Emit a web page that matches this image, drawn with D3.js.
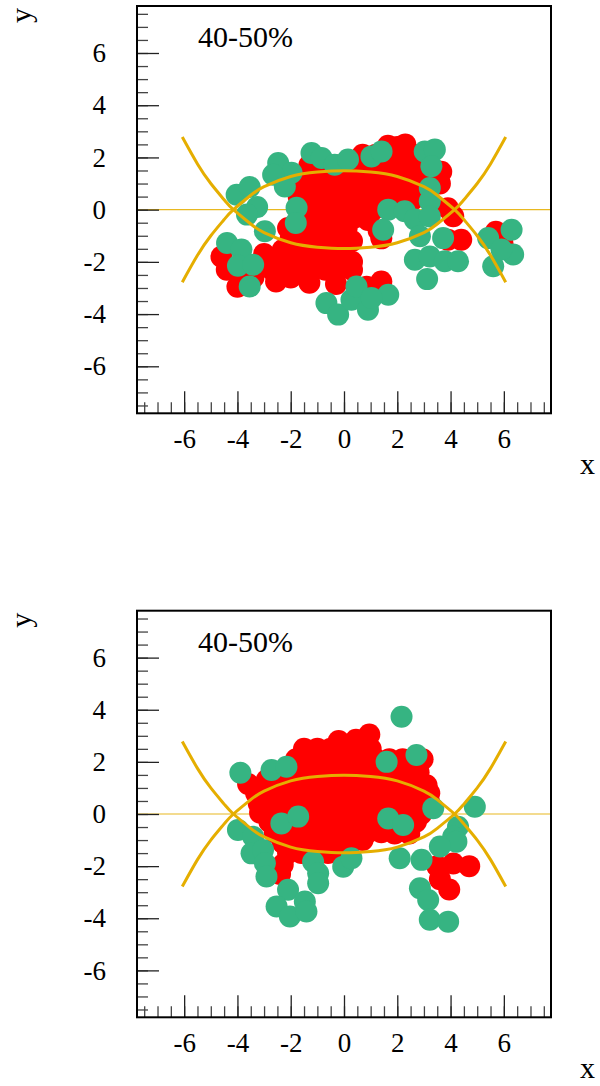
<html>
<script src="https://d3js.org/d3.v7.min.js"></script>
<style> body {margin:0;} svg text {font-family: "Liberation Serif", "Times New Roman", serif;} </style>
<body onload='init()'>
<svg width=600 height=1086>
</svg>
<script>
// axis ticks
var majorTicks = [-6, -4, -2, 0, 2, 4, 6];
var minorTicks = [-7.5, -7, -6.5, -6, -5.5, -5, -4.5, -4, -3.5, -3, -2.5, -2, -1.5, -1, -0.5, 0,
                  0.5, 1, 1.5, 2, 2.5, 3, 3.5, 4, 4.5, 5, 5.5, 6, 6.5, 7, 7.5];

// the two yellow arcs
var curveX     = [-6.07, -5.5, -5, -4.5, -4.15, -3.5, -3, -2, -1, 0, 1, 2, 3, 3.5, 4.15, 4.5, 5, 5.5, 6.07];
var curveUpper = [-2.78, -1.75, -1.0, -0.38, 0, 0.55, 0.88, 1.27, 1.44, 1.49, 1.44, 1.27, 0.88, 0.55, 0, -0.38, -1.0, -1.75, -2.78];
var curveLower = [2.78, 1.75, 1.0, 0.38, 0, -0.55, -0.88, -1.27, -1.44, -1.49, -1.44, -1.27, -0.88, -0.55, 0, 0.38, 1.0, 1.75, 2.78];

// top panel points [x, y]
var topRed = [[1.65,2.45],[2.0,2.4],[2.3,2.5],
  [0.7,2.1],[1.2,2.1],[1.7,2.1],[2.2,2.1],[2.6,2.1],
  [-1.3,1.7],[-0.8,1.7],[-0.3,1.7],[0.2,1.7],[0.7,1.7],[1.2,1.7],[1.7,1.7],[2.2,1.7],[2.7,1.7],
  [-1.5,1.3],[-1.0,1.3],[-0.5,1.3],[0.0,1.3],[0.5,1.3],[1.0,1.3],[1.5,1.3],[2.0,1.3],[2.5,1.3],[3.0,1.3],[3.65,1.45],
  [-1.5,0.9],[-1.0,0.9],[-0.5,0.9],[0.0,0.9],[0.5,0.9],[1.0,0.9],[1.5,0.9],[2.0,0.9],[2.5,0.9],[3.0,0.9],[3.6,1.0],
  [-1.7,0.5],[-1.2,0.5],[-0.7,0.5],[-0.2,0.5],[0.3,0.5],[0.8,0.5],[1.3,0.5],[2.0,0.5],[2.6,0.4],[3.0,0.5],
  [-1.4,0.1],[-0.9,0.1],[-0.4,0.1],[0.1,0.1],[0.6,0.1],[1.1,0.0],[3.9,0.05],
  [-1.6,-0.3],[-1.1,-0.3],[-0.6,-0.3],[-0.1,-0.3],[0.4,-0.3],[0.9,-0.4],[4.1,-0.25],
  [-2.1,-0.7],[-1.4,-0.7],[-0.9,-0.7],[-0.4,-0.7],[0.1,-0.7],[1.3,-0.8],
  [-2.0,-1.1],[-1.6,-1.1],[-1.1,-1.1],[-0.6,-1.1],[-0.1,-1.1],[0.3,-1.2],[1.4,-1.1],[3.9,-1.15],[4.4,-1.15],
  [-2.3,-1.55],[-1.9,-1.5],[-1.4,-1.5],[-0.9,-1.5],[-0.4,-1.5],[0.0,-1.6],
  [-3.0,-1.7],[-2.5,-1.9],[-2.0,-1.9],[-1.5,-1.9],[-1.0,-1.9],[-0.5,-1.9],[0.0,-1.9],[0.3,-2.0],
  [-2.7,-2.3],[-2.2,-2.3],[-1.7,-2.3],[-1.2,-2.3],[-0.7,-2.3],[-0.2,-2.3],[0.3,-2.3],
  [-2.55,-2.75],[-2.0,-2.6],[-1.3,-2.8],[-0.3,-2.85],[1.4,-2.75],[0.85,-2.95],
  [-4.6,-1.8],[-4.4,-2.3],[-4.0,-2.95],[-3.75,-2.5],[-3.4,-2.6],
  [5.7,-0.85],[5.95,-1.3]];
var topGreen = [[-4.03,0.57],[-3.54,0.87],[-3.26,0.10],[-3.64,-0.19],[-2.97,-0.83],
  [-4.39,-1.28],[-3.85,-1.53],[-3.98,-2.15],[-3.41,-2.11],[-3.54,-2.94],
  [-2.47,1.79],[-1.97,1.41],[-2.66,1.34],[-2.22,0.89],[-1.78,0.07],[-1.81,-0.51],
  [-1.22,2.17],[-0.84,1.98],[-0.35,1.72],[0.15,1.92],
  [-0.66,-3.58],[-0.22,-4.02],[0.28,-3.45],[0.47,-2.94],
  [1.03,2.04],[1.41,2.23],[3.03,2.23],[3.41,2.30],[3.28,1.66],[3.22,0.83],[3.22,0.32],
  [1.66,0.0],[2.28,-0.06],[1.47,-0.77],[2.66,-0.38],[2.85,-1.02],[3.22,-0.26],[3.72,-1.09],
  [2.66,-1.92],[3.22,-1.79],[3.78,-1.98],[4.28,-1.98],[3.12,-2.66],
  [5.41,-1.09],[6.29,-0.77],[6.35,-1.72],[5.6,-2.17],[5.91,-1.53],
  [0.9,-3.83],[1.66,-3.26],[1.03,-3.38]];

// bottom panel points [x, y]
var bottomRed = [[-0.2,2.8],[0.45,2.85],[0.95,3.05],
  [-1.5,2.5],[-1.0,2.5],[-0.5,2.5],[0.0,2.5],[0.5,2.5],[1.0,2.5],
  [-1.8,2.1],[-1.3,2.1],[-0.8,2.1],[-0.3,2.1],[0.2,2.1],[0.7,2.1],[1.2,2.1],[1.7,2.1],[2.2,2.1],[2.95,2.1],
  [-2.2,1.7],[-1.7,1.7],[-1.2,1.7],[-0.7,1.7],[-0.2,1.7],[0.3,1.7],[0.8,1.7],[1.3,1.7],[1.8,1.7],[2.3,1.7],[2.8,1.6],
  [-3.6,1.15],[-2.9,1.3],[-2.4,1.3],[-1.9,1.3],[-1.4,1.3],[-0.9,1.3],[-0.4,1.3],[0.1,1.3],[0.6,1.3],[1.1,1.3],[1.6,1.3],[2.1,1.3],[2.6,1.3],[3.1,1.1],
  [-3.3,0.8],[-2.8,0.9],[-2.3,0.9],[-1.8,0.9],[-1.3,0.9],[-0.8,0.9],[-0.3,0.9],[0.2,0.9],[0.7,0.9],[1.2,0.9],[1.7,0.9],[2.2,0.9],[2.7,0.9],[3.2,0.8],
  [-3.2,0.4],[-2.7,0.5],[-2.2,0.5],[-1.7,0.5],[-1.2,0.5],[-0.7,0.5],[-0.2,0.5],[0.3,0.5],[0.8,0.5],[1.3,0.5],[1.8,0.5],[2.3,0.5],[2.8,0.5],[3.2,0.45],
  [-3.15,0.05],[-2.6,0.1],[-2.1,0.1],[-1.6,0.1],[-1.1,0.1],[-0.6,0.1],[-0.1,0.1],[0.4,0.1],[0.9,0.1],[1.4,0.1],[1.9,0.1],[2.4,0.1],[2.9,0.0],
  [-2.8,-0.3],[-2.3,-0.3],[-1.8,-0.3],[-1.3,-0.3],[-0.8,-0.3],[-0.3,-0.3],[0.2,-0.3],[0.7,-0.3],[1.2,-0.3],[1.7,-0.4],[2.2,-0.4],[2.7,-0.3],
  [-2.6,-0.7],[-2.1,-0.7],[-1.6,-0.7],[-1.1,-0.7],[-0.6,-0.7],[-0.1,-0.7],[0.4,-0.7],[0.9,-0.7],[1.4,-0.7],[1.9,-0.75],[2.45,-0.75],
  [-2.3,-1.1],[-1.8,-1.1],[-1.3,-1.1],[-0.8,-1.1],[-0.3,-1.1],[0.2,-1.1],[0.7,-1.0],
  [-2.1,-1.5],[-1.6,-1.5],[-0.6,-1.5],[-0.1,-1.45],
  [-2.4,-2.3],[-2.3,-1.95],
  [4.1,-1.9],[4.7,-2.0],[3.6,-2.5],[3.95,-2.9],[3.5,-2.0]];
var bottomGreen = [[-3.89,1.58],[-2.72,1.69],[-2.16,1.81],[-3.98,-0.61],[-3.41,-0.87],[-3.47,-1.51],
  [-3.04,-1.38],[-2.97,-1.89],[-2.91,-2.40],[-2.35,-0.36],[-1.72,-0.10],[-1.16,-1.83],[-0.97,-2.27],
  [-0.97,-2.66],[-2.10,-2.91],[-2.53,-3.55],[-2.03,-3.93],[-1.47,-3.36],[-1.41,-3.74],[-0.03,-2.02],[0.28,-1.70],
  [2.16,3.73],[1.6,2.0],[2.72,2.26],[3.35,0.22],[4.91,0.28],[1.66,-0.17],[2.22,-0.42],[4.28,-0.49],
  [4.1,-0.87],[4.22,-1.06],[3.6,-1.25],[2.09,-1.70],[2.91,-1.76],[2.85,-2.85],[3.16,-3.30],[3.22,-4.06],[3.91,-4.13]];

var panelLabel = "40-50%";

function init() {

var svg = d3.select("svg");
var serif = "'Liberation Serif', 'Times New Roman', serif";

var x = d3.scaleLinear()
  .domain([-7.77, 7.77])
  .range([137, 551]);

var panels = [
  {top: 6, bottom: 413.3, red: topRed, green: topGreen},
  {top: 610.7, bottom: 1017.3, red: bottomRed, green: bottomGreen}
];

var yellow = "#e5ae00";

panels.forEach(function (p) {

  var y = d3.scaleLinear()
    .domain([-7.8, 7.8])
    .range([p.bottom, p.top]);

  var g = svg.append("g");

  // horizontal line at zero (under the points)
  g.append("line")
    .attr("x1", x(-7.77)).attr("x2", x(7.77))
    .attr("y1", y(0)).attr("y2", y(0))
    .attr("stroke", "#e8b820")
    .attr("stroke-width", 1.2);

  g.selectAll("circle.red")
    .data(p.red)
    .enter()
    .append("circle")
    .attr("class", "red")
    .attr("cx", function (d) { return x(d[0]); })
    .attr("cy", function (d) { return y(d[1]); })
    .attr("r", 11)
    .attr("fill", "#ff0000");

  g.selectAll("circle.green")
    .data(p.green)
    .enter()
    .append("circle")
    .attr("class", "green")
    .attr("cx", function (d) { return x(d[0]); })
    .attr("cy", function (d) { return y(d[1]); })
    .attr("r", 11)
    .attr("fill", "#36b482");

  // yellow arcs on top
  var line = d3.line()
    .x(function (d, i) { return x(curveX[i]); })
    .y(function (d) { return y(d); })
    .curve(d3.curveNatural);

  [curveUpper, curveLower].forEach(function (c) {
    g.append("path")
      .attr("d", line(c))
      .attr("fill", "none")
      .attr("stroke", yellow)
      .attr("stroke-width", 3);
  });

  // minor ticks
  g.append("g")
    .attr("transform", "translate(" + x.range()[0] + ",0)")
    .call(d3.axisLeft(y).tickValues(minorTicks).tickSize(-11).tickFormat(""))
    .call(function (a) { a.select(".domain").remove(); a.selectAll("line").attr("stroke", "#444").attr("stroke-width", 1.3); });
  g.append("g")
    .attr("transform", "translate(0," + p.bottom + ")")
    .call(d3.axisBottom(x).tickValues(minorTicks).tickSize(-11).tickFormat(""))
    .call(function (a) { a.select(".domain").remove(); a.selectAll("line").attr("stroke", "#444").attr("stroke-width", 1.3); });

  // major ticks with labels
  g.append("g")
    .attr("transform", "translate(" + x.range()[0] + ",0)")
    .call(d3.axisLeft(y).tickValues(majorTicks).tickSize(-22).tickPadding(31).tickFormat(function (d) { return String(d); }))
    .call(function (a) {
      a.select(".domain").remove();
      a.selectAll("line").attr("stroke", "#222").attr("stroke-width", 1.3);
      a.selectAll("text").style("font-family", serif).style("font-size", "27px");
    });
  g.append("g")
    .attr("transform", "translate(0," + p.bottom + ")")
    .call(d3.axisBottom(x).tickValues(majorTicks).tickSize(-22).tickPadding(16).tickFormat(function (d) { return String(d); }))
    .call(function (a) {
      a.select(".domain").remove();
      a.selectAll("line").attr("stroke", "#222").attr("stroke-width", 1.3);
      a.selectAll("text").style("font-family", serif).style("font-size", "27px");
    });

  // frame
  g.append("rect")
    .attr("x", x.range()[0])
    .attr("y", p.top)
    .attr("width", x.range()[1] - x.range()[0])
    .attr("height", p.bottom - p.top)
    .attr("fill", "none")
    .attr("stroke", "black")
    .attr("stroke-width", 2);

  g.append("text")
    .attr("x", 198)
    .attr("y", p.top + 41)
    .style("font-family", serif)
    .style("font-size", "30px")
    .text(panelLabel);

  // axis titles
  g.append("text")
    .attr("transform", "translate(31," + (p.top + 2) + ") rotate(-90)")
    .attr("text-anchor", "end")
    .style("font-family", serif)
    .style("font-size", "30px")
    .text("y");

  g.append("text")
    .attr("x", 595)
    .attr("y", p.bottom + 61)
    .attr("text-anchor", "end")
    .style("font-family", serif)
    .style("font-size", "30px")
    .text("x");
});

}
</script>
</body>
</html>
